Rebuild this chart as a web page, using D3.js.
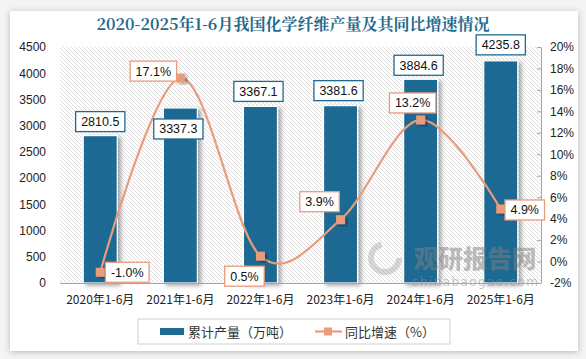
<!DOCTYPE html>
<html><head><meta charset="utf-8">
<script src="https://cdn.jsdelivr.net/npm/d3@7/dist/d3.min.js"></script>
<style>
html,body{margin:0;padding:0;background:#f4f4f4;}
svg{display:block;}
</style></head>
<body>
<svg id="c" width="586" height="359"></svg>
<script>
const categories = ["2020年1-6月","2021年1-6月","2022年1-6月","2023年1-6月","2024年1-6月","2025年1-6月"];
const production = [2810.5, 3337.3, 3367.1, 3381.6, 3884.6, 4235.8];
const growth = [-1.0, 17.1, 0.5, 3.9, 13.2, 4.9];
const leftTicks = [0,500,1000,1500,2000,2500,3000,3500,4000,4500];
const rightTicks = [-2,0,2,4,6,8,10,12,14,16,18,20];
const title = "2020-2025年1-6月我国化学纤维产量及其同比增速情况";
const legendLabels = ["累计产量（万吨）","同比增速（%）"];

const barColor = "#1f6a93", lineColor = "#e99b7c";
const font = "'Noto Sans CJK SC','Noto Sans',sans-serif";
const svg = d3.select("#c");

const defs = svg.append("defs");
const pat = defs.append("pattern").attr("id","hatch").attr("patternUnits","userSpaceOnUse")
  .attr("width",4).attr("height",4);
pat.append("rect").attr("width",4).attr("height",4).attr("fill","#fff");
pat.append("path").attr("d","M-1,-1 L5,5 M-1,3 L1,5 M3,-1 L5,1").attr("stroke","#d6d6d6").attr("stroke-width",0.8);
const cardSh = defs.append("filter").attr("id","cardsh").attr("x","-5%").attr("y","-5%").attr("width","110%").attr("height","110%");
cardSh.append("feDropShadow").attr("dx",0).attr("dy",1).attr("stdDeviation",3).attr("flood-color","#000").attr("flood-opacity",0.25);
const sh = defs.append("filter").attr("id","sh").attr("x","-30%").attr("y","-10%").attr("width","160%").attr("height","130%");
sh.append("feDropShadow").attr("dx",3).attr("dy",2).attr("stdDeviation",2).attr("flood-color","#000").attr("flood-opacity",0.35);

// card
svg.append("rect").attr("x",10).attr("y",11).attr("width",568).attr("height",340).attr("fill","#fff").attr("filter","url(#cardsh)");

svg.append("text").attr("x",293).attr("y",30).attr("text-anchor","middle")
  .attr("font-family","'Noto Serif CJK SC','Noto Sans CJK SC',serif").attr("font-weight","bold")
  .attr("font-size",16).attr("fill","#1f6b8e").text(title);

const L=60, R=541, T=47, B=283;
const x = d3.scaleBand().domain(categories).range([L,R]).paddingInner(0.575).paddingOuter(0.29);
const yL = d3.scaleLinear().domain([0,4500]).range([B,T]);
const yR = d3.scaleLinear().domain([-2,20]).range([B,T]);

svg.append("rect").attr("x",L).attr("y",T).attr("width",R-L).attr("height",B-T).attr("fill","url(#hatch)");

// bars
svg.append("g").selectAll("rect").data(production).join("rect")
  .attr("x",(d,i)=>x(categories[i])).attr("width",x.bandwidth())
  .attr("y",d=>yL(d)).attr("height",d=>B-yL(d))
  .attr("fill",barColor).attr("stroke","#fff").attr("stroke-width",1.2).attr("filter","url(#sh)");

// watermark
const wm = svg.append("g").attr("opacity",0.5);
wm.append("circle").attr("cx",385).attr("cy",258).attr("r",14).attr("fill","none").attr("stroke","#b0b0b0").attr("stroke-width",6).attr("stroke-dasharray","62 26");
wm.append("text").attr("x",414).attr("y",268).attr("font-family",font).attr("font-weight","900").attr("font-size",24.5).attr("fill","#7f7f7f").text("观研报告网");
wm.append("text").attr("x",412).attr("y",286).attr("font-family","'DejaVu Sans',sans-serif").attr("font-size",12).attr("fill","#8f8f8f").attr("textLength",126).text("chinabaogao.com");

// baseline
svg.append("line").attr("x1",L).attr("x2",R).attr("y1",B+0.5).attr("y2",B+0.5).attr("stroke","#a6a6a6").attr("stroke-width",1);

// left axis
const gl = svg.append("g").attr("transform",`translate(${L},0)`)
  .call(d3.axisLeft(yL).tickValues(leftTicks).tickSize(0).tickPadding(14).tickFormat(d3.format("d")));
gl.select(".domain").remove();
gl.selectAll("text").attr("font-family","'Liberation Sans',Arial,sans-serif").attr("font-size",12).attr("fill","#222");

// right axis
const gr = svg.append("g").attr("transform",`translate(${R},0)`)
  .call(d3.axisRight(yR).tickValues(rightTicks).tickSizeInner(-4).tickSizeOuter(0).tickPadding(9).tickFormat(d=>d+"%"));
gr.select(".domain").attr("stroke","#a6a6a6");
gr.selectAll(".tick line").attr("stroke","#a6a6a6");
gr.selectAll("text").attr("font-family","'Liberation Sans',Arial,sans-serif").attr("font-size",12).attr("fill","#222");

// x axis labels
const gx = svg.append("g").attr("transform",`translate(0,${B})`)
  .call(d3.axisBottom(x).tickSize(0).tickPadding(12));
gx.select(".domain").remove();
gx.selectAll("text").attr("font-family",font).attr("font-size",12).attr("fill","#222");

// line
const cx = (i)=>x(categories[i])+x.bandwidth()/2;
const line = d3.line().x((d,i)=>cx(i)).y(d=>yR(d)).curve(d3.curveCatmullRom.alpha(0));
svg.append("path").attr("d",line(growth)).attr("fill","none").attr("stroke",lineColor).attr("stroke-width",2.2);
svg.append("g").selectAll("rect").data(growth).join("rect")
  .attr("x",(d,i)=>cx(i)-4.5).attr("y",d=>yR(d)-4.5).attr("width",9).attr("height",9)
  .attr("fill",lineColor).attr("filter","url(#sh)");

function labelBox(g, cxp, cyp, txt, color){
  const t = g.append("text").attr("x",cxp).attr("y",cyp).attr("text-anchor","middle").attr("dy","0.36em")
    .attr("font-family","'Liberation Sans',Arial,sans-serif").attr("font-size",12.5).attr("fill","#111").text(txt);
  const w = t.node().getComputedTextLength()+11;
  g.insert("rect","text:last-of-type").attr("x",cxp-w/2).attr("y",cyp-10).attr("width",w).attr("height",20)
    .attr("fill","#fff").attr("stroke",color).attr("stroke-width",1.3);
  t.raise();
}
const barLabelDy = [-14,21,-15,-15,-14,-16];
const barLabelDx = [0,-2,-2,-2,-2,0];
const gb = svg.append("g");
production.forEach((d,i)=>labelBox(gb, cx(i)+barLabelDx[i], yL(d)+barLabelDy[i], d.toFixed(1), barColor));

const lineLabelOff = [[27,0],[-27,-7],[-16,20],[-21,-18],[-8,-17],[24,1]];
const gll = svg.append("g");
growth.forEach((d,i)=>labelBox(gll, cx(i)+lineLabelOff[i][0], yR(d)+lineLabelOff[i][1], d.toFixed(1)+"%", lineColor));

// legend
const lg = svg.append("g");
lg.append("rect").attr("x",138).attr("y",319).attr("width",312).attr("height",25).attr("fill","#fff").attr("stroke","#d0d0d0");
lg.append("rect").attr("x",160).attr("y",328).attr("width",24).attr("height",7).attr("fill",barColor);
lg.append("text").attr("x",188).attr("y",332).attr("dy","0.36em").attr("font-family",font).attr("font-size",13).attr("fill","#333").text(legendLabels[0]);
lg.append("line").attr("x1",315).attr("x2",342).attr("y1",331.5).attr("y2",331.5).attr("stroke",lineColor).attr("stroke-width",2.2);
lg.append("rect").attr("x",324).attr("y",327.5).attr("width",8).attr("height",8).attr("fill",lineColor);
lg.append("text").attr("x",345).attr("y",332).attr("dy","0.36em").attr("font-family",font).attr("font-size",13).attr("fill","#333").text(legendLabels[1]);
</script>
</body></html>
